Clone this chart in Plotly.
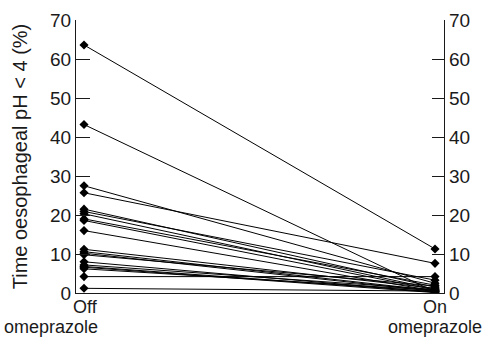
import plotly.graph_objects as go

conditions = ["Off omeprazole", "On omeprazole"]
off_omeprazole = [63.6, 43.2, 27.5, 25.7, 21.5, 20.9, 20.3, 19.0, 18.6, 16.0,
                  11.2, 10.6, 10.2, 9.8, 8.0, 7.2, 6.8, 6.6, 6.2, 4.2, 1.2]
on_omeprazole = [11.3, 0.3, 2.5, 7.6, 1.5, 3.3, 1.0, 2.0, 0.8, 0.5,
                 1.2, 0.6, 0.4, 1.8, 0.2, 0.9, 0.3, 0.1, 0.7, 4.2, 0.5]
y_ticks = [0, 10, 20, 30, 40, 50, 60, 70]

xs, ys = [], []
for a, b in zip(off_omeprazole, on_omeprazole):
    xs += [0, 1, None]
    ys += [a, b, None]

FONT = "Liberation Sans, Arial, sans-serif"
INK = "#1a1a1a"
fig = go.Figure()
fig.add_trace(go.Scatter(
    x=xs, y=ys, mode="lines+markers",
    line=dict(color="black", width=1),
    marker=dict(symbol="diamond", size=7, color="black"),
    showlegend=False, hoverinfo="skip"))
fig.add_trace(go.Scatter(x=[0], y=[0], yaxis="y2", mode="markers",
                         marker=dict(opacity=0), showlegend=False, hoverinfo="skip"))

L, R, T, B = 76, 41, 20, 44
W, H = 485, 337
xr = [-0.0228, 1.0256]
fig.update_layout(
    width=W, height=H,
    margin=dict(l=L, r=R, t=T, b=B),
    paper_bgcolor="white", plot_bgcolor="white",
    font=dict(family=FONT, color=INK),
    xaxis=dict(range=xr, showgrid=False, zeroline=False, showticklabels=False,
               ticks="", showline=True, linecolor=INK, linewidth=1.2,
               automargin=False),
    yaxis=dict(range=[0, 70], tickvals=y_ticks, ticks="inside", ticklen=14,
               tickcolor=INK, tickwidth=1.2, showgrid=False, zeroline=False,
               showline=True, linecolor=INK, linewidth=1.2, automargin=False,
               tickfont=dict(size=19, family=FONT),
               title=dict(text="Time oesophageal pH < 4 (%)",
                          font=dict(size=20, family=FONT), standoff=16)),
    yaxis2=dict(range=[0, 70], tickvals=y_ticks, ticks="inside", ticklen=12,
                tickcolor=INK, tickwidth=1.2, overlaying="y", side="right",
                showgrid=False, zeroline=False, showline=True, automargin=False,
                linecolor=INK, linewidth=1.2,
                tickfont=dict(size=19, family=FONT)),
)

pw, ph = W - L - R, H - T - B
labels = [("Off", 85, 307, "center"), ("omeprazole", 2, 327, "left"),
          ("On", 435, 307, "center"), ("omeprazole", 484, 327, "right")]
for text, px, py, anc in labels:
    fig.add_annotation(text=text, xref="paper", yref="paper",
                       x=(px - L) / pw, y=-(py - (H - B)) / ph,
                       showarrow=False, xanchor=anc, yanchor="middle",
                       font=dict(size=18, family=FONT, color=INK))

fig.write_html("out.html", config={"displayModeBar": False},
               post_script="document.body.style.margin='0';document.body.style.overflow='hidden';")
